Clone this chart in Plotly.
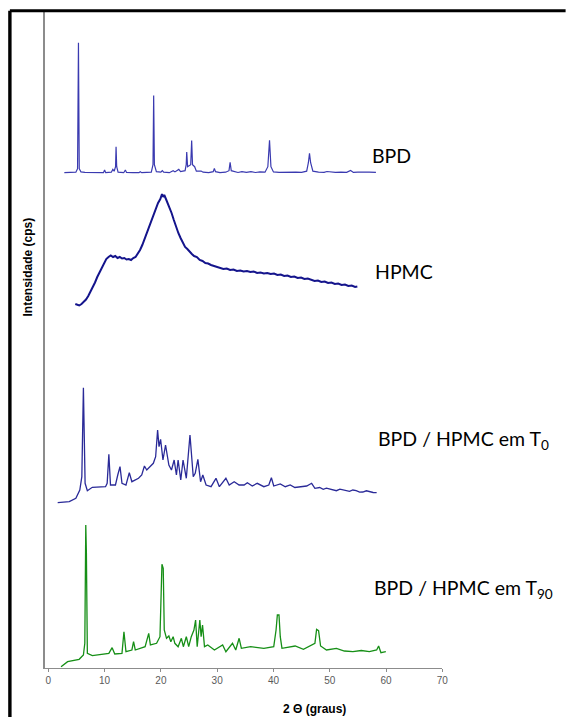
import plotly.graph_objects as go

W, H = 566, 717

# ---------------- data (2θ in degrees, intensity in arbitrary cps units) ----------------
bpd_theta = [2.85, 4.0, 4.9, 5.2, 5.36, 5.5, 5.8, 6.5, 7.5, 8.5, 9.8, 10.0, 10.2, 11.2, 11.46, 11.7,
             11.95, 12.04, 12.15, 12.4, 13.4, 13.69, 13.9, 15.0, 16.1, 16.33, 16.6, 18.3, 18.6, 18.72,
             18.85, 19.2, 20.0, 20.25, 20.5, 21.5, 22.18, 22.5, 23.18, 23.5, 24.3, 24.5, 24.59, 24.75,
             25.3, 25.47, 25.62, 26.0, 26.3, 27.15, 27.5, 28.5, 29.3, 29.5, 29.7, 30.5, 31.5, 32.1,
             32.3, 32.5, 33.0, 33.7, 34.4, 35.2, 36.0, 36.8, 37.6, 38.5, 39.0, 39.3, 39.55, 40.0, 41.0,
             42.0, 43.0, 44.0, 45.0, 45.9, 46.2, 46.4, 46.6, 47.0, 48.0, 49.0, 49.5, 50.0, 51.0, 52.0,
             53.0, 53.7, 54.2, 55.0, 56.0, 57.0, 58.2]
bpd_int = [0.0, 0.0, 0.5, 4.0, 130.0, 4.0, 0.8, 0.3, 0.0, 0.3, 0.0, 2.7, 0.0, 0.5, 3.3, 1.5,
           6.0, 26.0, 6.0, 0.5, 0.0, 2.7, 0.3, 0.0, 0.0, 1.0, 0.0, 0.5, 8.0, 77.3,
           8.0, 1.0, 0.5, 2.0, 0.5, 0.0, 2.0, 0.8, 3.3, 1.0, 2.0, 8.0, 20.7, 6.0,
           8.0, 32.3, 8.0, 6.0, 1.5, 1.7, 0.5, 0.0, 1.0, 4.3, 1.0, 0.0, 0.5, 2.0,
           10.3, 2.0, 1.0, 0.2, 1.0, 0.3, 1.0, 0.2, 0.8, 0.5, 6.0, 32.3, 6.0, 0.8, 0.3,
           0.5, 0.3, 0.5, 0.3, 1.5, 10.0, 19.3, 10.0, 1.5, 0.5, 0.3, 1.2, 0.8, 0.3, 0.5,
           0.3, 2.3, 0.3, 0.5, 0.2, 0.6, 0.3]

hpmc_theta = [4.8, 5.2, 5.5, 5.9, 6.3, 6.7, 7.1, 7.5, 7.9, 8.3, 8.7, 9.1, 9.5, 9.9, 10.3, 10.7, 11.1,
              11.5, 11.9, 12.3, 12.7, 13.1, 13.5, 13.9, 14.3, 14.7, 15.1, 15.5, 15.9, 16.3, 16.7, 17.1,
              17.5, 17.9, 18.3, 18.7, 19.1, 19.5, 19.9, 20.2, 20.4, 20.6, 20.9, 21.2, 21.5, 21.9, 22.3,
              22.7, 23.1, 23.5, 23.9, 24.3, 24.7, 25.1, 25.5, 25.9, 26.4, 26.9, 27.4, 27.9, 28.4, 28.9,
              29.4, 29.9, 30.5, 31.1, 31.7, 32.3, 32.9, 33.5, 34.1, 34.7, 35.3, 35.9, 36.5, 37.1, 37.7,
              38.3, 38.9, 39.5, 40.1, 40.7, 41.3, 41.9, 42.5, 43.1, 43.7, 44.3, 44.9, 45.5, 46.1, 46.7,
              47.3, 47.9, 48.5, 49.1, 49.7, 50.3, 50.9, 51.5, 52.1, 52.7, 53.3, 53.9, 54.5, 54.9]
hpmc_int = [6, 5, 4.5, 6, 8, 10.5, 14, 18, 22, 27.5, 33, 37.5, 43, 47, 51, 53, 54.5,
            53, 54, 52, 53, 51.5, 52, 50.5, 51, 50, 52, 53, 56, 60, 65, 71,
            78, 85, 90, 97, 102, 107, 111, 116, 113, 115, 111, 107, 102, 97, 90,
            83, 77, 72, 67, 63, 61, 58, 56, 54, 53, 50, 49, 47, 46.5, 45,
            44, 43, 42.5, 41, 41.5, 40, 40.5, 39, 39.5, 38.5, 39, 38, 38.5, 37, 37.5,
            36.5, 37, 36, 36.5, 35, 35.5, 34, 34.5, 33, 33.5, 32, 32.5, 31, 31.5, 30,
            29, 29.5, 28, 28.5, 27, 27.5, 26, 26.5, 25, 25.5, 24, 24.5, 23, 23.5]

t0_theta = [1.67, 3.73, 4.9, 5.6, 5.96, 6.24, 6.54, 6.94, 7.82, 8.8, 10.17, 10.46, 10.76, 11.05,
            11.93, 12.34, 12.74, 13.09, 13.8, 14.39, 14.85, 16.03, 16.6, 17.08, 17.49, 18.66, 19.07,
            19.42, 19.67, 19.95, 20.37, 20.83, 21.42, 21.88, 22.36, 22.76, 23.06, 23.53, 23.94, 24.52,
            25.17, 25.75, 26.1, 26.57, 27.05, 27.45, 28.03, 28.91, 29.79, 30.39, 31.55, 32.14, 33.02,
            33.9, 34.78, 35.36, 36.24, 37.12, 38.29, 39.17, 39.63, 40.05, 41.21, 42.1, 42.97, 43.8,
            44.73, 45.9, 46.78, 47.36, 48.2, 48.84, 49.4, 50.0, 50.6, 51.18, 51.8, 52.35, 52.9, 53.51,
            54.1, 54.69, 55.3, 55.87, 56.5, 57.03, 57.7, 58.33]
t0_int = [2.3, 3.3, 6.7, 15, 28.3, 117.3, 21.7, 14.3, 17.7, 18, 18.3, 21.7, 50.7, 20,
          20, 30, 38.3, 21.7, 20, 32.3, 23.3, 26.7, 30, 39, 35, 41.7, 48.3,
          75, 58.3, 65.7, 45, 60, 40, 35, 45, 30, 45, 25, 45, 26.7,
          70, 28.3, 31.7, 45.7, 23.3, 30, 20, 18.3, 26.7, 18.3, 26.7, 20, 23.3,
          20, 20, 22.3, 19, 21.7, 18.3, 20, 27.3, 19, 21, 18.3, 20, 17.5,
          18.3, 19, 21.7, 16.7, 17.5, 15.7, 16.8, 15.7, 14.6, 14.3, 15.8, 15, 13.9, 13.7,
          15, 14.3, 12.8, 13, 14.2, 13.3, 12.5, 12.3]

t90_theta = [2.27, 3.43, 5.48, 6.24, 6.49, 6.54, 6.66, 6.77, 6.94, 7.82, 10.17, 10.76, 11.34, 11.81,
             13.09, 13.44, 13.8, 14.85, 15.15, 15.45, 17.2, 17.84, 18.14, 19.24, 19.84, 20.07, 20.19,
             20.42, 20.6, 21.0, 21.42, 21.77, 22.18, 22.48, 23.06, 23.64, 23.99, 24.52, 24.94, 25.4,
             25.87, 26.17, 26.45, 26.92, 27.15, 27.4, 27.75, 28.33, 29.51, 30.97, 31.55, 32.72, 33.3,
             33.9, 34.3, 35.94, 38.29, 40.05, 40.46, 40.69, 40.98, 41.21, 41.51, 43.85, 45.32, 47.36,
             47.66, 48.01, 48.37, 49.42, 51.18, 52.6, 54.11, 55.6, 57.03, 58.33, 58.68, 59.09, 59.96]
t90_int = [3.3, 8.3, 10.7, 15, 26.7, 116.7, 145, 116.7, 16.7, 14.3, 15.7, 16.7, 22.3, 16,
           16.7, 38.3, 18.3, 20, 28.3, 20, 23.3, 36.7, 25, 26.7, 33.3, 100, 105.7,
           101.7, 40, 31.7, 34, 28.3, 33.3, 26.7, 23.3, 31.7, 23.3, 33.3, 23.3, 33.3,
           40, 50, 23.3, 50, 33.3, 45, 23.3, 25, 20, 25, 18.3, 26.7, 20,
           31.7, 21.7, 23.3, 21.7, 23.3, 40, 55, 55, 33.3, 21.7, 24, 20.7, 26.7,
           40.7, 39.3, 24, 20, 21.7, 19, 18.3, 19.5, 18.3, 20, 24, 17.3, 18.3]

# vertical stacking offsets of the four patterns
offsets = {"BPD": 497.3, "HPMC": 360.0, "T0": 165.0, "T90": 0.0}

x_ticks = [0, 10, 20, 30, 40, 50, 60, 70]

# ---------------- figure ----------------
fig = go.Figure()


def add(theta, inten, off, color, width):
    fig.add_trace(go.Scatter(x=theta, y=[v + off for v in inten], mode="lines",
                             line=dict(color=color, width=width), hoverinfo="skip",
                             showlegend=False))


add(bpd_theta, bpd_int, offsets["BPD"], "#3a3ab0", 1.2)
add(hpmc_theta, hpmc_int, offsets["HPMC"], "#14148c", 2.0)
add(t0_theta, t0_int, offsets["T0"], "#2a2a98", 1.3)
add(t90_theta, t90_int, offsets["T90"], "#168f16", 1.3)


def px(xp):
    return xp / W


def py(yp):
    return 1 - yp / H


fig.update_layout(
    width=W, height=H,
    margin=dict(l=0, r=0, t=0, b=0),
    paper_bgcolor="white", plot_bgcolor="white",
    xaxis=dict(domain=[px(45.5), px(447.1)], range=[-0.58, 70], tickvals=x_ticks,
               showline=True, linecolor="#8c8c8c", linewidth=1.2, ticks="outside",
               ticklen=3, tickcolor="#8c8c8c", showgrid=False, zeroline=False,
               tickfont=dict(family="Liberation Sans, Arial", size=10, color="#5a5a5a")),
    yaxis=dict(domain=[py(668), py(12)], range=[2, 658], showticklabels=False,
               showline=True, linecolor="#8c8c8c", linewidth=1.5, ticks="",
               showgrid=False, zeroline=False),
    font=dict(family="Liberation Sans, Arial"),
)

label_font = dict(family="Lato, Noto Sans, sans-serif", size=19.5, color="black")
labels = [("BPD", 374, 155), ("HPMC", 377, 271.5), ("BPD / HPMC em T<sub>0</sub>", 380, 440),
          ("BPD / HPMC em T<sub>90</sub>", 376, 589)]
for txt, lx, ly in labels:
    fig.add_annotation(text=txt, x=px(lx), y=py(ly), xref="paper", yref="paper",
                       xanchor="left", yanchor="middle", showarrow=False, font=label_font)

fig.add_annotation(text="<b>2 Θ (graus)</b>", x=px(318), y=py(709), xref="paper", yref="paper",
                   xanchor="center", yanchor="middle", showarrow=False,
                   font=dict(family="Liberation Sans, Arial", size=12, color="black"))
fig.add_annotation(text="<b>Intensidade (cps)</b>", x=px(28.3), y=py(267.5), xref="paper",
                   yref="paper", xanchor="center", yanchor="middle", textangle=-90,
                   showarrow=False, font=dict(family="Liberation Sans, Arial", size=12, color="black"))

# black frame around the picture (top and left edges visible)
fig.add_shape(type="line", xref="paper", yref="paper", x0=px(10), x1=1.01, y0=py(10.8), y1=py(10.8),
              line=dict(color="black", width=3))
fig.add_shape(type="line", xref="paper", yref="paper", x0=px(10), x1=px(10), y0=py(10.8), y1=-0.01,
              line=dict(color="black", width=3.4))

fig.write_html("out.html", config={"displayModeBar": False},
               post_script="document.body.style.margin='0';document.body.style.overflow='hidden';")
